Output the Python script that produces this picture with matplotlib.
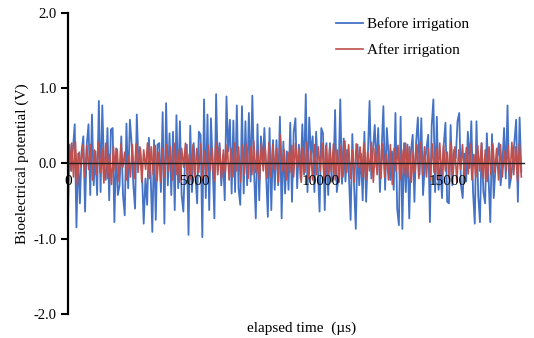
import numpy as np
import matplotlib
matplotlib.use("Agg")
import matplotlib.pyplot as plt

plt.rcParams['font.family'] = ['Liberation Serif', 'DejaVu Serif']

# Bioelectrical potential readings (V)
before = [
    -0.80, 0.25, -0.10, 0.20, 0.52, -0.85, 0.13, -0.53, 0.16, 0.36, -0.64, 0.25, 0.52, -0.42, 0.65, -0.29,
    0.16, -0.42, 0.83, -0.38, 0.77, -0.06, -0.22, 0.47, -0.49, 0.45, 0.47, -0.78, 0.20, -0.42, -0.29, 0.36,
    -0.42, -0.69, 0.53, -0.33, 0.58, 0.27, -0.29, -0.60, 0.65, -0.02, 0.20, -0.11, -0.80, -0.20,
    -0.55, 0.34, -0.11, -0.91, 0.31, -0.75, 0.25, 0.27, -0.38, 0.68, -0.80, 0.80, -0.29, 0.40, -0.42, 0.42,
    -0.62, 0.64, -0.33, 0.56, -0.42, -0.64, 0.07, 0.25, -0.95, 0.50, -0.38, 0.27, -0.15, -0.53, 0.42, 0.38,
    -0.98, 0.85, -0.46, 0.65, -0.62, 0.60, -0.02, -0.73, 0.92, -0.09, 0.27, -0.29, 0.11, -0.49, 0.89, 0.16,
    0.58, -0.40, 0.57, -0.38, 0.77, -0.33, -0.55, 0.76, -0.40, 0.56, -0.29, 0.67, -0.24, 0.90, -0.11, -0.73,
    0.52, -0.49, 0.36, -0.02, 0.47, -0.15, -0.71, 0.47, -0.62, 0.31, -0.35, 0.31, -0.29, 0.62, -0.73, 0.29,
    -0.40, 0.16, -0.35, 0.54, -0.51, 0.42, 0.60, -0.33, 0.25, -0.20, 0.52, -0.15, 0.92, -0.38, 0.61, 0.11,
    0.36, -0.38, 0.42, -0.06,
    -0.64, 0.47, 0.40, -0.62, 0.27, -0.42, 0.27, -0.24, -0.20, 0.71, -0.38, -0.18, 0.85, -0.27, 0.33, -0.24,
    0.18, -0.15, -0.75, 0.39, -0.29, -0.87, 0.25, -0.29, 0.13, -0.49, 0.42, -0.51, 0.11, 0.83, -0.20, 0.18,
    0.51, -0.05, 0.47, -0.38, 0.18, 0.76, -0.35, 0.47, 0.11, -0.22, 0.16, -0.35, 0.67, -0.60, -0.82, 0.62,
    -0.87, 0.27, -0.38, 0.25, -0.73, 0.16, 0.38, -0.51, 0.29, 0.61, -0.15,
    0.60, -0.42, -0.02, 0.20, 0.38, -0.78, 0.49, 0.85, -0.38, 0.62, -0.35, -0.02, -0.46, 0.25, 0.54, -0.51,
    -0.53, 0.51, -0.29, 0.18, 0.07, 0.56, 0.67, -0.29, -0.46, 0.13, -0.24, 0.42, -0.06, 0.56, -0.38, -0.80,
    0.56, -0.42, -0.78, 0.27, -0.38, -0.53, 0.40, -0.20, -0.78, 0.39, -0.46, -0.06, 0.09, 0.27, -0.29, -0.02,
    0.47, -0.20, 0.77, -0.33, -0.20, 0.02, 0.29, 0.58, -0.51, 0.61, -0.11,
]

after = [
    0.22, -0.10, 0.27, -0.18, 0.29, -0.29, 0.15, -0.05, 0.25, -0.18, 0.24, -0.08, 0.25, -0.22, 0.18, -0.15,
    0.28, -0.12, 0.20, -0.26, 0.27, -0.20, 0.12, -0.28, 0.22, -0.10, 0.19, -0.24, 0.26, -0.05, 0.15, -0.22,
    0.10, -0.18, 0.25, -0.20, 0.26, -0.12, 0.22, -0.25, 0.18, -0.08, 0.27, -0.20, 0.22, -0.15, 0.24, -0.23,
    0.15, -0.25, 0.20, -0.18, 0.25, -0.10, 0.22, -0.22, 0.27, -0.15, 0.18, -0.25, 0.20, -0.05, 0.27, -0.20,
    0.12, -0.22, 0.25, -0.18, 0.20, -0.12, 0.26, -0.22, 0.16, -0.18, 0.24, -0.10, 0.20, -0.24, 0.28, -0.15,
    0.22, -0.20, 0.18, -0.12, 0.25, -0.22, 0.20, -0.18, 0.27, -0.10, 0.22, -0.25, 0.24, -0.15, 0.26, -0.20,
    0.22, -0.15, 0.30, -0.12, 0.18, -0.22, 0.26, -0.10, 0.21, -0.20, 0.28, -0.18, 0.25, -0.08, 0.20, -0.25,
    0.38, -0.10, 0.18, -0.22, 0.15, -0.12, 0.24, -0.18, 0.27, -0.06, 0.20, -0.25, 0.22, -0.12, 0.28, -0.20,
    0.16, -0.22, 0.25, -0.15, 0.22, -0.10, 0.27, -0.20, 0.24, -0.18, 0.20, -0.12, 0.26, -0.22, 0.18, -0.25,
    0.24, -0.18, 0.30, -0.12, 0.25, -0.20, 0.18, -0.25, 0.26, -0.05, 0.22, -0.18, 0.27, -0.22, 0.15, -0.10,
    0.28, -0.25, 0.20, -0.15, 0.24, -0.20, 0.26, -0.18, 0.12, -0.22, 0.25, -0.28, 0.20, -0.10, 0.24, -0.22,
    0.18, -0.15, 0.27, -0.18, 0.22, -0.25, 0.16, -0.12, 0.25, -0.20, 0.28, -0.15, 0.22, -0.18, 0.20, -0.22,
    0.26, -0.12, 0.20, -0.22, 0.27, -0.18, 0.24, -0.10, 0.15, -0.20, 0.28, -0.15, 0.22, -0.25, 0.18, -0.08,
    0.25, -0.20, 0.21, -0.14, 0.26, -0.22, 0.12, -0.18, 0.24, -0.10, 0.27, -0.20, 0.18, -0.24, 0.22, -0.15,
    0.26, -0.12, 0.20, -0.22, 0.25, -0.18, 0.16, -0.10, 0.24, -0.20, 0.28, -0.15, 0.22, -0.24, 0.26, -0.18,
]

t_end = 17900  # last sample time (us)
t_before = np.linspace(0, t_end, len(before))
t_after = np.linspace(0, t_end, len(after))

x_ticks = [0, 5000, 10000, 15000]
y_ticks = [-2.0, -1.0, 0.0, 1.0, 2.0]

fig = plt.figure(figsize=(5.34, 3.38), dpi=100)
ax = fig.add_axes([0.127, 0.071, 0.854, 0.891])

ax.plot(t_before, before, color='#4472C4', lw=1.3, label='Before irrigation')
ax.plot(t_after, after, color='#C0504D', lw=1.2, label='After irrigation')

ax.set_xlim(0, 18000)
ax.set_ylim(-2.0, 2.0)
ax.set_xticks(x_ticks)
ax.set_yticks(y_ticks)
ax.set_yticklabels([f'{v:.1f}' for v in y_ticks])

ax.spines['top'].set_visible(False)
ax.spines['right'].set_visible(False)
ax.spines['left'].set_linewidth(1.6)
ax.spines['bottom'].set_position(('data', 0))
ax.spines['bottom'].set_linewidth(1.0)
ax.spines['bottom'].set_color('#222222')
ax.xaxis.set_zorder(3)

ax.tick_params(axis='x', length=0, pad=8, labelsize=11)
ax.tick_params(axis='y', direction='out', length=5, width=1.5, labelsize=10.5, pad=3)

ax.set_ylabel('Bioelectrical potential (V)', fontsize=11, labelpad=3)
ax.text(0.512, -0.047, 'elapsed time  (\u00b5s)', transform=ax.transAxes,
        ha='center', va='center', fontsize=11)

ax.legend(loc='upper left', bbox_to_anchor=(0.588, 0.985), frameon=False, fontsize=11,
          borderpad=0, borderaxespad=0, handlelength=1.8, handletextpad=0.2,
          labelspacing=0.82)

fig.savefig('out.png', dpi=100)
